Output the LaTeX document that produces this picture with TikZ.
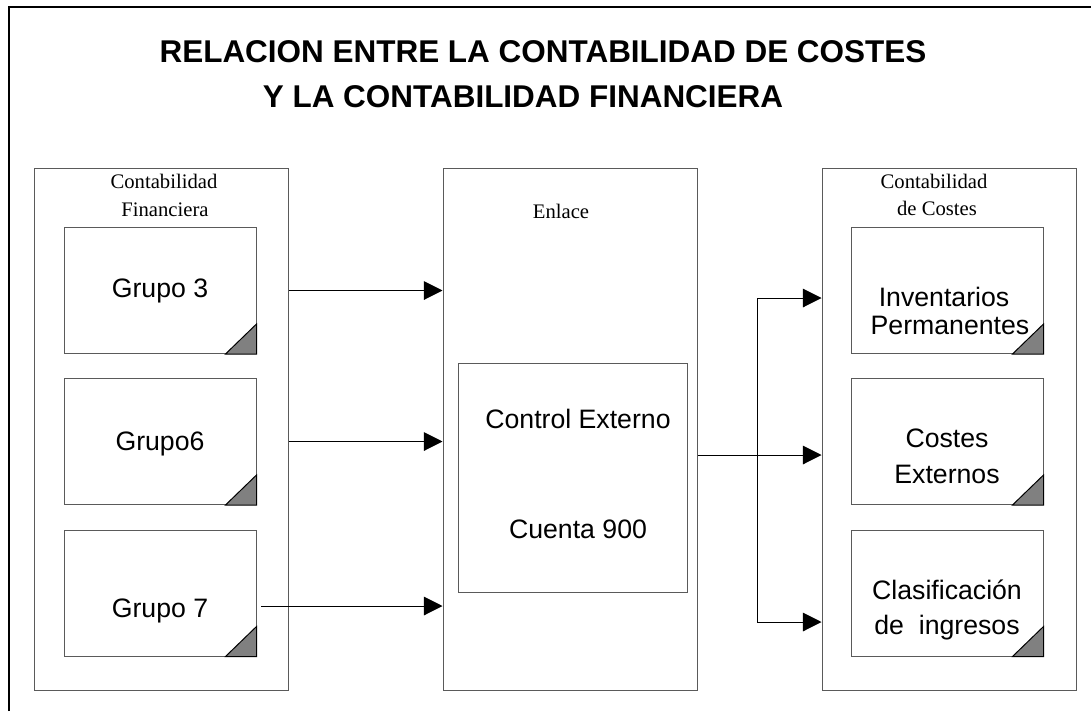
\documentclass[tikz,border=0pt]{standalone}
\usepackage{fontspec}
\setmainfont{Liberation Serif}
\setsansfont{Liberation Sans}
\usetikzlibrary{calc,arrows.meta}
\definecolor{edge}{HTML}{5A5A5A}
\definecolor{foldgray}{HTML}{808080}
\tikzset{
  frame/.style={draw=black, line width=1.5pt},
  panel/.style={draw=edge, line width=0.75pt, minimum width=190.5pt, minimum height=391.5pt, inner sep=0pt},
  card/.style={draw=edge, line width=0.75pt, minimum width=144pt, minimum height=94.5pt, inner sep=0pt},
  inner/.style={draw=edge, line width=0.75pt, minimum width=171.75pt, minimum height=171.75pt, inner sep=0pt},
  fold/.style={fill=foldgray, draw=black, line width=0.75pt},
  link/.style={draw=black, line width=0.75pt},
  flow/.style={link, -{Triangle[length=14pt, width=14pt]}},
  lab/.style={font=\fontsize{15.5}{18}\selectfont, anchor=base, inner sep=0pt},
  txt/.style={font=\sffamily\fontsize{20}{24}\selectfont, anchor=base, inner sep=0pt},
  ttl/.style={font=\sffamily\bfseries\fontsize{23.6}{28}\selectfont, anchor=base, inner sep=0pt}
}

\begin{document}
\begin{tikzpicture}[x=0.75pt, y=-0.75pt]
  \useasboundingbox (0,0) rectangle (1091,711);
  % outer frame, open at right and bottom
  \draw[frame] (9,711) -- (9,7) -- (1091,7);

  \node[ttl] (title1) at (543,62) {RELACION ENTRE LA CONTABILIDAD DE COSTES};
  \node[ttl] (title2) at (523,107) {Y LA CONTABILIDAD FINANCIERA};

  % three columns
  \node[panel] (fin) at (161.5,429) {};
  \node[panel] (enl) at (570,429) {};
  \node[panel] (cos) at (949,429) {};

  \node[lab] (finA) at (164,188) {Contabilidad};
  \node[lab] (finB) at (165,216) {Financiera};
  \node[lab] (enlA) at (561,218) {Enlace};
  \node[lab] (cosA) at (934,188) {Contabilidad};
  \node[lab] (cosB) at (937,215) {de Costes};

  % left cards
  \node[card] (g3) at (160,290.5) {};
  \node[card] (g6) at (160,441.5) {};
  \node[card] (g7) at (160,593) {};
  \node[txt] (g3t) at (160,297) {Grupo 3};
  \node[txt] (g6t) at (160,450) {Grupo6};
  \node[txt] (g7t) at (160,617) {Grupo 7};

  % link box
  \node[inner] (ctrl) at (572.5,477.5) {};
  \node[txt] (ctrlA) at (578,428) {Control Externo};
  \node[txt] (ctrlB) at (578,538) {Cuenta 900};

  % right cards
  \node[card] (inv) at (947,290.5) {};
  \node[card] (cex) at (947,441.5) {};
  \node[card] (cla) at (947,593) {};
  \node[txt] (invA) at (944,306) {Inventarios};
  \node[txt] (invB) at (950,334) {Permanentes};
  \node[txt] (cexA) at (947,447) {Costes};
  \node[txt] (cexB) at (947,483) {Externos};
  \node[txt] (claA) at (947,599) {Clasificación};
  \node[txt] (claB) at (947,634) {de\ \ ingresos};

  % folded corners
  \foreach \c in {g3,g6,g7,inv,cex,cla}
    \filldraw[fold] (\c.south east) -- ++(0,-30) -- ++(-31,30) -- cycle;

  % arrows into the link column
  \coordinate (g7out) at (261,606);
  \draw[flow] (fin.east |- g3) -- (enl.west |- g3);
  \draw[flow] (fin.east |- g6) -- (enl.west |- g6);
  \draw[flow] (g7out) -- (enl.west |- g7out);

  % branching arrows to the cost column
  \coordinate (split) at (757,455);
  \coordinate (splittop) at (757,298);
  \coordinate (splitbot) at (757,622);
  \draw[link] (enl.east |- split) -- (split);
  \draw[link] (splittop) -- (splitbot);
  \draw[flow] (split) -- (cos.west |- split);
  \draw[flow] (splittop) -- (cos.west |- splittop);
  \draw[flow] (splitbot) -- (cos.west |- splitbot);
\end{tikzpicture}
\end{document}
